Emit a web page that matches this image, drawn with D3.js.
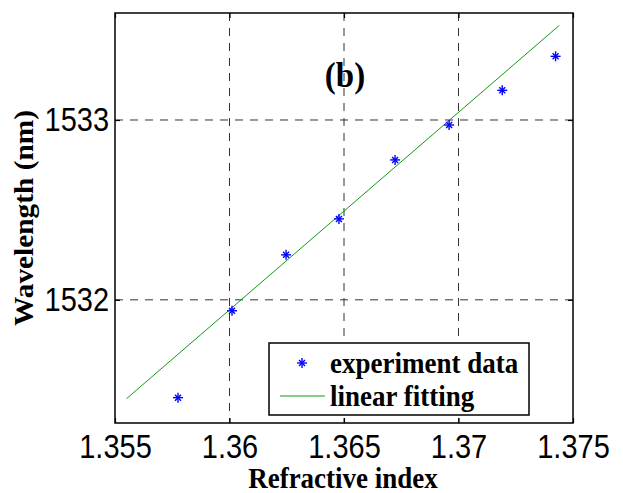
<!DOCTYPE html>
<html>
<head>
<meta charset="utf-8">
<script src="https://cdn.jsdelivr.net/npm/d3@7"></script>
<style>
  html, body { margin: 0; padding: 0; background: #fff; }
  svg { display: block; }
</style>
</head>
<body>
<svg id="chart" width="623" height="493"></svg>
<script>
// ---- data ----
const refIndex   = [1.35775, 1.36011, 1.36247, 1.36478, 1.36723, 1.36959, 1.37191, 1.37424];
const wavelength = [1531.456, 1531.939, 1532.250, 1532.450, 1532.778, 1532.972, 1533.165, 1533.354];
const fitX = [1.3555, 1.3744];
const fitY = [1531.45, 1533.526];
const xTicks = [1.355, 1.36, 1.365, 1.37, 1.375];
const xTickLabels = ["1.355", "1.36", "1.365", "1.37", "1.375"];
const yTicks = [1532, 1533];
const yTickLabels = ["1532", "1533"];
const seriesNames = ["experiment data", "linear fitting"];
const panelLabel = "(b)";
const xTitle = "Refractive index";
const yTitle = "Wavelength (nm)";

(function () {
// ---- layout ----
const L = 115, R = 573, T = 13, B = 423;
const serif = "'Liberation Serif', 'Times New Roman', serif";
const sans = "'Liberation Sans', Arial, Helvetica, sans-serif";
const SY = 1.12; // vertical stretch of the reference's text

const svg = d3.select("#chart");
const x = d3.scaleLinear().domain([1.355, 1.375]).range([L, R]);
const y = d3.scaleLinear().domain([1531.315, 1533.595]).range([B, T]);

// grid lines
const grid = svg.append("g").attr("stroke", "#333").attr("stroke-width", 1)
  .attr("stroke-dasharray", "8,7").attr("fill", "none");
xTicks.slice(1, -1).forEach(v => {
  grid.append("line").attr("x1", x(v)).attr("x2", x(v)).attr("y1", T).attr("y2", B);
});
yTicks.forEach(v => {
  grid.append("line").attr("x1", L).attr("x2", R).attr("y1", y(v)).attr("y2", y(v));
});

// axes (ticks inward, on all four sides)
const gBottom = svg.append("g").attr("transform", `translate(0,${B})`)
  .call(d3.axisBottom(x).tickValues(xTicks).tickFormat((d, i) => xTickLabels[i])
    .tickSize(-5).tickPadding(12));
const gTop = svg.append("g").attr("transform", `translate(0,${T})`)
  .call(d3.axisTop(x).tickValues(xTicks).tickFormat("").tickSize(-5));
const gLeft = svg.append("g").attr("transform", `translate(${L},0)`)
  .call(d3.axisLeft(y).tickValues(yTicks).tickFormat((d, i) => yTickLabels[i])
    .tickSize(-5).tickPadding(6));
const gRight = svg.append("g").attr("transform", `translate(${R},0)`)
  .call(d3.axisRight(y).tickValues(yTicks).tickFormat("").tickSize(-5));
[gBottom, gTop, gLeft, gRight].forEach(g => {
  g.select(".domain").remove();
  g.selectAll(".tick line").attr("stroke", "#000").attr("stroke-width", 1.2);
  g.selectAll("text").attr("font-family", sans).attr("font-size", 29).attr("fill", "#000");
});
gBottom.selectAll(".tick text").attr("y", 0)
  .attr("transform", `translate(0,12) scale(1,${SY})`);
gLeft.selectAll(".tick text").attr("transform", `scale(1,${SY})`);

// frame
svg.append("rect").attr("x", L).attr("y", T).attr("width", R - L).attr("height", B - T)
  .attr("fill", "none").attr("stroke", "#000").attr("stroke-width", 1.5);

// fitted line
const line = d3.line().x(d => x(d[0])).y(d => y(d[1]));
svg.append("path").datum(fitX.map((v, i) => [v, fitY[i]]))
  .attr("d", line).attr("fill", "none").attr("stroke", "#119911").attr("stroke-width", 1);

// asterisk markers
function star(g, cx, cy, r) {
  const s = g.append("g").attr("transform", `translate(${cx},${cy})`)
    .attr("stroke", "#0000ff").attr("stroke-width", 1.4);
  s.append("line").attr("x1", -r).attr("x2", r).attr("y1", 0).attr("y2", 0);
  s.append("line").attr("x1", 0).attr("x2", 0).attr("y1", -r).attr("y2", r);
  const d = r * 0.6;
  s.append("line").attr("x1", -d).attr("x2", d).attr("y1", -d).attr("y2", d);
  s.append("line").attr("x1", -d).attr("x2", d).attr("y1", d).attr("y2", -d);
}
const pts = svg.append("g");
refIndex.forEach((v, i) => star(pts, x(v), y(wavelength[i]), 5));

// serif text helper with vertical stretch
function stext(px, py, size, str, anchor, rot) {
  return svg.append("text")
    .attr("transform", `translate(${px},${py})` + (rot ? ` rotate(${rot})` : "") +
      (rot ? ` scale(${SY * 0.97},1)` : ` scale(1,${SY * 0.97})`))
    .attr("text-anchor", anchor || "start")
    .attr("font-family", serif).attr("font-weight", "bold").attr("font-size", size)
    .text(str);
}

// panel label
stext(345, 87, 33, panelLabel, "middle");

// axis titles
stext((L + R) / 2 - 1, 488, 27, xTitle, "middle");
stext(33, 218, 27, yTitle, "middle", -90);

// legend
const lg = svg.append("g");
lg.append("rect").attr("x", 269).attr("y", 343).attr("width", 260).attr("height", 72)
  .attr("fill", "#fff").attr("stroke", "#000").attr("stroke-width", 1.5);
star(lg, 302, 363, 5);
lg.append("line").attr("x1", 280).attr("x2", 325).attr("y1", 396).attr("y2", 396)
  .attr("stroke", "#119911").attr("stroke-width", 1);
stext(330, 373, 27, seriesNames[0]);
stext(330, 406, 27, seriesNames[1]);
})();
</script>
</body>
</html>
